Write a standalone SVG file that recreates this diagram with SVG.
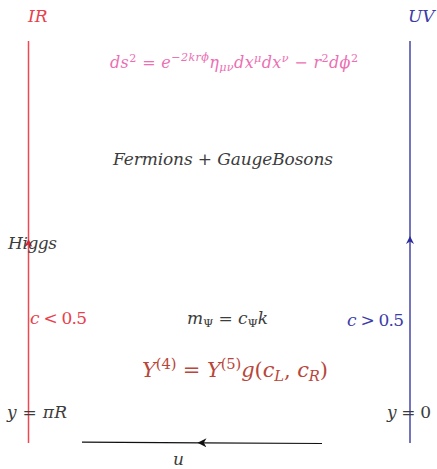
<svg xmlns="http://www.w3.org/2000/svg" width="437" height="469" viewBox="0 0 437 469">
<style>
text{font-family:"DejaVu Serif","Liberation Serif",serif;font-style:italic;}
.up{font-style:normal}
.sup{font-size:70%}
.gray{fill:#3c3c3c}
.red{fill:#e8404c}
.blue{fill:#3c3ca8}
.pink{fill:#ec6fb4}
.brown{fill:#b8463a}
</style>
<defs>
<marker id="arR" viewBox="0 0 10 10" refX="5" refY="5" markerWidth="8" markerHeight="8" orient="auto" markerUnits="userSpaceOnUse">
<path d="M0,0 L10,5 L0,10 L3,5 Z" fill="#e8202c"/>
</marker>
<marker id="arB" viewBox="0 0 10 10" refX="5" refY="5" markerWidth="8" markerHeight="8" orient="auto" markerUnits="userSpaceOnUse">
<path d="M0,0 L10,5 L0,10 L3,5 Z" fill="#2a2a9a"/>
</marker>
<marker id="arK" viewBox="0 0 10 10" refX="5" refY="5" markerWidth="9" markerHeight="9" orient="auto" markerUnits="userSpaceOnUse">
<path d="M0,0 L10,5 L0,10 L3,5 Z" fill="#111"/>
</marker>
</defs>
<g id="connectors">
<polyline points="28.5,443 28.5,243 28.5,41" fill="none" stroke="#f04850" stroke-width="1.5" marker-mid="url(#arR)"/>
<polyline points="410,443 410,240 410,41" fill="none" stroke="#2a2a9a" stroke-width="1.3" marker-mid="url(#arB)"/>
<polyline points="322,443.5 202,442.8 82,442.2" fill="none" stroke="#111" stroke-width="1.2" marker-mid="url(#arK)"/>
</g>
<g id="IR"><text x="28" y="22" font-size="17" class="red">IR</text></g>
<g id="UV"><text x="408" y="22" font-size="17" class="blue">UV</text></g>
<g id="metric"><text x="110" y="68" font-size="16" class="pink" textLength="248">ds<tspan class="up sup" dy="-6">2</tspan><tspan class="up" dy="6"> = </tspan>e<tspan class="sup" dy="-7">−2krϕ</tspan><tspan dy="7">η</tspan><tspan class="sup" dy="3">μν</tspan><tspan dy="-3">dx</tspan><tspan class="sup" dy="-6">μ</tspan><tspan dy="6">dx</tspan><tspan class="sup" dy="-6">ν</tspan><tspan class="up" dy="6"> − </tspan>r<tspan class="up sup" dy="-6">2</tspan><tspan dy="6">dϕ</tspan><tspan class="up sup" dy="-6">2</tspan></text></g>
<g id="fermions"><text x="113" y="165" font-size="17" class="gray" textLength="220">Fermions<tspan class="up"> + </tspan>GaugeBosons</text></g>
<g id="higgs"><text x="8" y="249" font-size="17" class="gray" textLength="49">Higgs</text></g>
<g id="cless"><text x="30" y="324" font-size="17" class="red" textLength="57">c<tspan class="up"> &lt; 0.5</tspan></text></g>
<g id="mass"><text x="187" y="324" font-size="17" class="gray" textLength="81">m<tspan class="up sup" dy="3">Ψ</tspan><tspan class="up" dy="-3"> = </tspan>c<tspan class="up sup" dy="3">Ψ</tspan><tspan dy="-3">k</tspan></text></g>
<g id="cgreater"><text x="347" y="326" font-size="17" class="blue" textLength="57">c<tspan class="up"> &gt; 0.5</tspan></text></g>
<g id="yukawa"><text x="142" y="377" font-size="21" class="brown" textLength="186">Y<tspan class="up sup" dy="-8">(4)</tspan><tspan class="up" dy="8"> = </tspan>Y<tspan class="up sup" dy="-8">(5)</tspan><tspan dy="8">g</tspan><tspan class="up">(</tspan>c<tspan class="sup" dy="4">L</tspan><tspan class="up" dy="-4">, </tspan>c<tspan class="sup" dy="4">R</tspan><tspan class="up" dy="-4">)</tspan></text></g>
<g id="ypir"><text x="7" y="418" font-size="17" class="gray" textLength="60">y<tspan class="up"> = </tspan>πR</text></g>
<g id="y0"><text x="387" y="418" font-size="17" class="gray" textLength="44">y<tspan class="up"> = 0</tspan></text></g>
<g id="u"><text x="173" y="465" font-size="17" class="gray">u</text></g>
</svg>
